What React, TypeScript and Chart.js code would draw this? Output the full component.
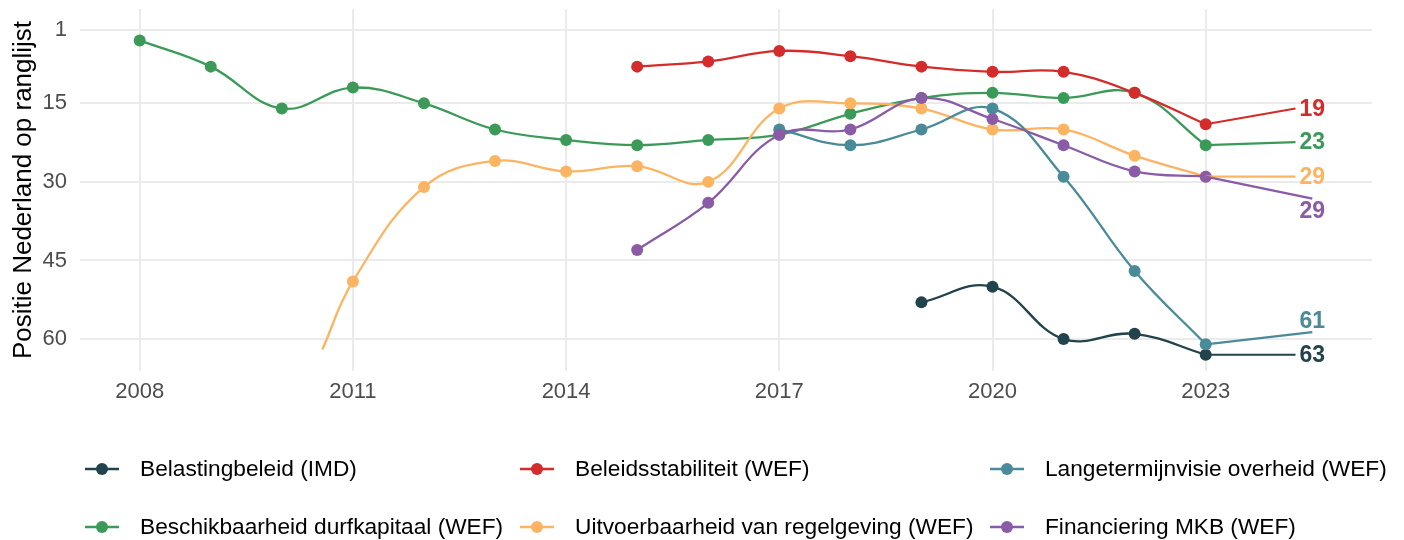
import React, { useEffect, useRef } from "react";
import { Chart, registerables } from "chart.js";

Chart.register(...registerables);

// ---------- data ----------
const years = [2008, 2009, 2010, 2011, 2012, 2013, 2014, 2015, 2016, 2017, 2018, 2019, 2020, 2021, 2022, 2023];

const belastingbeleid = [null, null, null, null, null, null, null, null, null, null, null, 53, 50, 60, 59, 63];
const beschikbaarheidDurfkapitaal = [3, 8, 16, 12, 15, 20, 22, 23, 22, 21, 17, 14, 13, 14, 13, 23];
const beleidsstabiliteit = [null, null, null, null, null, null, null, 8, 7, 5, 6, 8, 9, 9, 13, 19];
const uitvoerbaarheidRegelgeving = [null, null, null, 49, 31, 26, 28, 27, 30, 16, 15, 16, 20, 20, 25, 29];
const langetermijnvisie = [null, null, null, null, null, null, null, null, null, 20, 23, 20, 16, 29, 47, 61];
const financieringMKB = [null, null, null, null, null, null, null, 43, 34, 21, 20, 14, 18, 23, 28, 29];

// visible start of the orange line (the 2010 value falls outside the axis range)
const uitvoerbaarheidLineStart = [2010.57, 62];

const yTicks = [1, 15, 30, 45, 60];
const xTicks = [2008, 2011, 2014, 2017, 2020, 2023];

const seriesNames = [
  "Belastingbeleid (IMD)",
  "Beschikbaarheid durfkapitaal (WEF)",
  "Beleidsstabiliteit (WEF)",
  "Uitvoerbaarheid van regelgeving (WEF)",
  "Langetermijnvisie overheid (WEF)",
  "Financiering MKB (WEF)",
];
const seriesValues = [
  belastingbeleid,
  beschikbaarheidDurfkapitaal,
  beleidsstabiliteit,
  uitvoerbaarheidRegelgeving,
  langetermijnvisie,
  financieringMKB,
];

// ---------- styles / layout ----------
const seriesColors = ["#22434B", "#3C9A58", "#D42B2B", "#FDB462", "#4A8B9A", "#8A5BA6"];
// repelled end-label vertical shift (in axis units), per series
const endLabelShift = [0, -0.6, -3, 0, -4.6, 6.5];
const endLabelX = 2024.5;
// legend grid: [seriesIndex, row, col]
const legendLayout = [
  [0, 0, 0], [2, 0, 1], [4, 0, 2],
  [1, 1, 0], [3, 1, 1], [5, 1, 2],
];
const legendRowsY = [469, 527];
const legendColsTextX = [140, 575, 1045];

const FONT = "'Liberation Sans', Arial, Helvetica, sans-serif";

const endLabelsPlugin = {
  id: "endLabels",
  afterDatasetsDraw(chart: any) {
    const { ctx, scales } = chart;
    const xs = scales.x;
    const ys = scales.y;
    ctx.save();
    ctx.font = `bold 23px ${FONT}`;
    seriesValues.forEach((vals, i) => {
      let lastIdx = vals.length - 1;
      while (lastIdx >= 0 && vals[lastIdx] == null) lastIdx--;
      const v = vals[lastIdx] as number;
      const px = xs.getPixelForValue(years[lastIdx]);
      const py = ys.getPixelForValue(v);
      const cx = xs.getPixelForValue(endLabelX);
      const cy = ys.getPixelForValue(v + endLabelShift[i]);
      const text = String(v);
      const w = ctx.measureText(text).width;
      const halfW = w / 2 + 4;
      const halfH = 12;
      let ex: number, ey: number;
      const dy = py - cy;
      if (Math.abs(dy) <= 20) {
        ex = cx - halfW;
        ey = cy;
      } else if (dy < 0) {
        ex = cx;
        ey = cy - halfH;
      } else {
        ex = cx;
        ey = cy + halfH;
      }
      ctx.strokeStyle = seriesColors[i];
      ctx.lineWidth = 2.2;
      ctx.beginPath();
      ctx.moveTo(px, py);
      ctx.lineTo(ex, ey);
      ctx.stroke();
      ctx.fillStyle = seriesColors[i];
      ctx.textAlign = "center";
      ctx.textBaseline = "middle";
      ctx.fillText(text, cx, cy + 1);
    });
    ctx.restore();
  },
};

const legendPlugin = {
  id: "gridLegend",
  afterDraw(chart: any) {
    const { ctx } = chart;
    ctx.save();
    ctx.font = `22.7px ${FONT}`;
    ctx.textBaseline = "middle";
    ctx.textAlign = "left";
    legendLayout.forEach(([si, row, col]) => {
      const y = legendRowsY[row];
      const tx = legendColsTextX[col];
      const x0 = tx - 55;
      const x1 = tx - 21;
      ctx.strokeStyle = seriesColors[si];
      ctx.lineWidth = 2.4;
      ctx.beginPath();
      ctx.moveTo(x0, y);
      ctx.lineTo(x1, y);
      ctx.stroke();
      ctx.fillStyle = seriesColors[si];
      ctx.beginPath();
      ctx.arc((x0 + x1) / 2, y, 6, 0, Math.PI * 2);
      ctx.fill();
      ctx.fillStyle = "#000000";
      ctx.fillText(seriesNames[si], tx, y + 1);
    });
    ctx.restore();
  },
};

function buildPoints(vals: (number | null)[], si: number) {
  const pts: { x: number; y: number; start?: boolean }[] = [];
  if (si === 3) pts.push({ x: uitvoerbaarheidLineStart[0], y: uitvoerbaarheidLineStart[1], start: true });
  vals.forEach((v, i) => {
    if (v != null) pts.push({ x: years[i], y: v });
  });
  return pts;
}

export default function App() {
  const canvasRef = useRef<HTMLCanvasElement>(null);

  useEffect(() => {
    document.body.style.margin = "0";
    const canvas = canvasRef.current;
    if (!canvas) return;
    const drawOrder = [5, 4, 3, 2, 1, 0]; // lower order drawn on top
    const datasets = seriesValues.map((vals, si) => ({
      label: seriesNames[si],
      data: buildPoints(vals, si),
      borderColor: seriesColors[si],
      backgroundColor: seriesColors[si],
      borderWidth: 2.3,
      tension: 0.4,
      pointRadius: (c: any) => (c.raw && c.raw.start ? 0 : 6),
      pointBorderWidth: 0,
      pointHoverRadius: 6,
      order: drawOrder[si],
    }));

    const chart = new Chart(canvas, {
      type: "line",
      data: { datasets },
      plugins: [endLabelsPlugin, legendPlugin],
      options: {
        animation: false,
        responsive: false,
        events: [],
        layout: { padding: { left: 0, top: 9, right: 32, bottom: 124 } },
        plugins: {
          legend: { display: false },
          tooltip: { enabled: false },
        },
        scales: {
          x: {
            type: "linear",
            min: 2007.16,
            max: 2025.34,
            afterBuildTicks: (s: any) => {
              s.ticks = xTicks.map((v) => ({ value: v }));
            },
            afterFit: (s: any) => {
              s.height = 45;
              s.paddingLeft = 0;
              s.paddingRight = 0;
            },
            ticks: {
              callback: (v: any) => String(v),
              color: "#4D4D4D",
              font: { family: FONT, size: 22 },
              padding: 8,
              maxRotation: 0,
              autoSkip: false,
            },
            grid: { color: "#EBEBEB", lineWidth: 2, drawTicks: false },
            border: { display: false },
          },
          y: {
            type: "linear",
            reverse: true,
            min: -3.0,
            max: 66.1,
            afterBuildTicks: (s: any) => {
              s.ticks = yTicks.map((v) => ({ value: v }));
            },
            afterFit: (s: any) => {
              s.width = 80;
              s.paddingTop = 0;
              s.paddingBottom = 0;
            },
            ticks: {
              callback: (v: any) => String(v),
              color: "#4D4D4D",
              font: { family: FONT, size: 22 },
              padding: 13,
              autoSkip: false,
            },
            grid: { color: "#EBEBEB", lineWidth: 2, drawTicks: false },
            border: { display: false },
            title: {
              display: true,
              text: "Positie Nederland op ranglijst",
              color: "#000000",
              font: { family: FONT, size: 26 },
              padding: { top: 8, bottom: 0 },
            },
          },
        },
      },
    } as any);

    return () => chart.destroy();
  }, []);

  return (
    <div style={{ width: 1404, height: 540, position: "relative" }}>
      <canvas ref={canvasRef} width={1404} height={540} style={{ display: "block" }} />
    </div>
  );
}
